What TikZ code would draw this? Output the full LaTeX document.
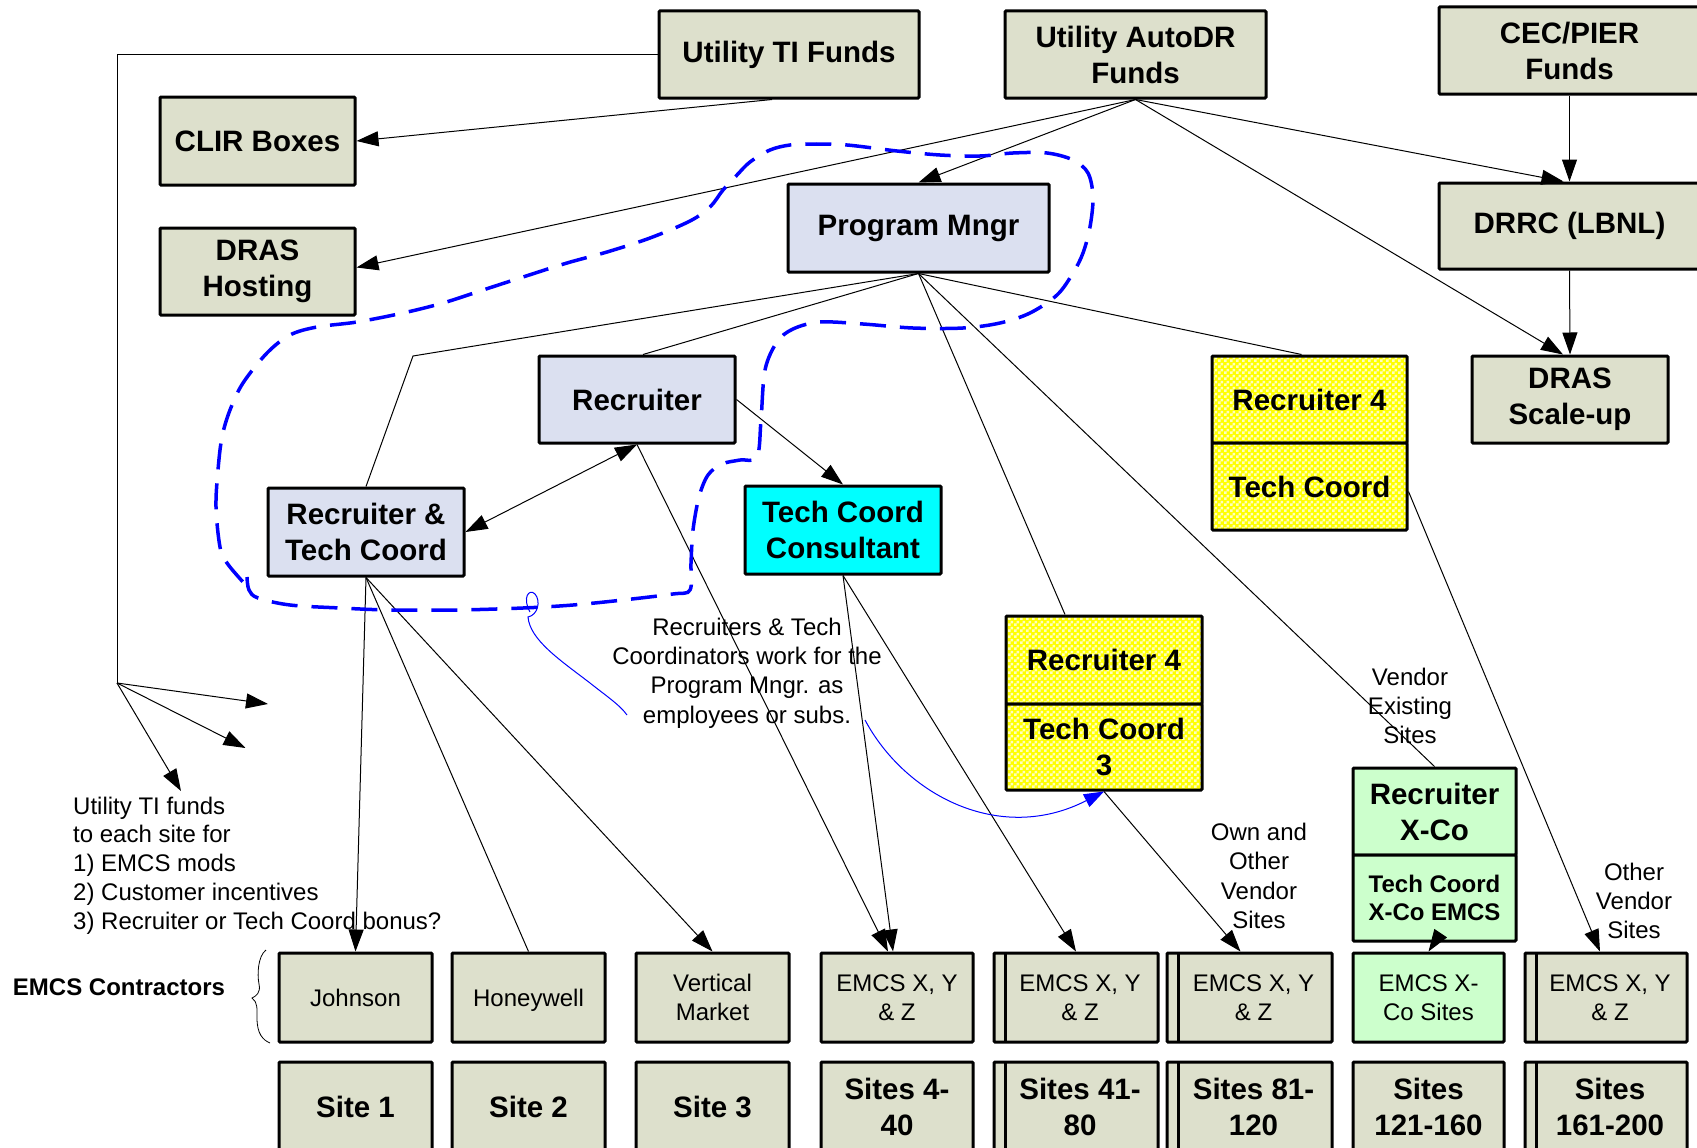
\documentclass[tikz,border=0pt]{standalone}
\usepackage{fontspec}
\setmainfont{Liberation Sans}
\usetikzlibrary{arrows.meta,patterns}
\definecolor{tanfill}{RGB}{221,224,204}
\definecolor{lavfill}{RGB}{219,224,240}
\definecolor{cyanfill}{RGB}{0,255,255}
\definecolor{mintfill}{RGB}{204,255,204}
\definecolor{yelfill}{RGB}{255,255,0}
\definecolor{yelpale}{RGB}{255,255,190}
\definecolor{loopblue}{RGB}{0,0,255}
\newcommand{\fontBig}{\fontsize{29.5}{36}\selectfont\bfseries}
\newcommand{\fontMid}{\fontsize{24}{28}\selectfont\bfseries}
\newcommand{\fontTxt}{\fontsize{24}{28.8}\selectfont}
\newcommand{\fontNote}{\fontsize{24}{29.3}\selectfont}
% small checkerboard used on the yellow staff boxes
\pgfdeclarepatternformonly{yelcheck}{\pgfpointorigin}{\pgfpoint{6pt}{6pt}}{\pgfpoint{6pt}{6pt}}{%
  \pgfpathrectangle{\pgfpointorigin}{\pgfpoint{3pt}{3pt}}%
  \pgfpathrectangle{\pgfpoint{3pt}{3pt}}{\pgfpoint{3pt}{3pt}}%
  \pgfusepath{fill}}
\begin{document}
\begin{tikzpicture}[x=1pt,y=-1pt,
  box/.style={draw=black, line width=3pt, rounded corners=1pt, inner sep=0pt, align=center, font=\fontBig},
  sz/.style 2 args={minimum width=#1pt, minimum height=#2pt},
  tan/.style={box, fill=tanfill},
  lav/.style={box, fill=lavfill},
  cy/.style={box, fill=cyanfill},
  mint/.style={box, fill=mintfill},
  yel/.style={box, fill=yelfill, path picture={\fill[pattern=yelcheck, pattern color=yelpale]
      (path picture bounding box.south west) rectangle (path picture bounding box.north east);}},
  multi/.style={path picture={\draw[line width=3pt]
      ([xshift=11pt]path picture bounding box.north west) -- ([xshift=11pt]path picture bounding box.south west);}},
  contr/.style={tan, font=\fontTxt},
  note/.style={font=\fontNote, align=center, inner sep=0pt},
  conn/.style={line width=1pt, draw=black},
  arr/.style={conn, -{Triangle[length=22pt, width=15pt]}},
  thinblue/.style={line width=1pt, draw=loopblue},
  dashloop/.style={draw=loopblue, line width=3.5pt, dash pattern=on 26pt off 14pt, line cap=butt},
]
\fill[white] (0,0) rectangle (1697,1148);
\useasboundingbox (0,0) rectangle (1697,1148);

% ---- funding sources and top level ----
\node[tan, sz={260}{87}] (uti) at (789,54.5) {Utility TI Funds};
\node[tan, sz={261}{87}] (autodr) at (1135.5,54.5) {Utility AutoDR\\Funds};
\node[tan, sz={261}{87}] (cec) at (1569.5,50.5) {CEC/PIER\\Funds};
\node[tan, sz={261}{86}] (drrc) at (1569.5,226) {DRRC (LBNL)};
\node[tan, sz={196}{87}] (drasup) at (1570,399.5) {DRAS\\Scale-up};
\node[tan, sz={195}{88}] (clir) at (257.5,141) {CLIR Boxes};
\node[tan, sz={195}{87}] (hosting) at (257.5,271.5) {DRAS\\Hosting};

% ---- program organisation ----
\node[lav, sz={261}{88}] (pm) at (918.5,228) {Program Mngr};
\node[lav, sz={196}{87}] (rec) at (637,399.5) {Recruiter};
\node[lav, sz={196}{88}] (rtc) at (366,532) {Recruiter \&\\Tech Coord};
\node[cy, sz={196}{88}] (tcc) at (843,530) {Tech Coord\\Consultant};
\node[yel, sz={195}{87}] (r4a) at (1309.5,399.5) {Recruiter 4};
\node[yel, sz={195}{87}] (r4b) at (1309.5,486.5) {Tech Coord};
\node[yel, sz={196}{88}] (r3a) at (1104,660) {Recruiter 4};
\node[yel, sz={196}{86}] (r3b) at (1104,747) {Tech Coord\\3};
\node[mint, sz={163}{87}] (xa) at (1434.5,811.5) {Recruiter\\X-Co};
\node[mint, sz={163}{86}, font=\fontMid] (xb) at (1434.5,898) {Tech Coord\\X-Co EMCS};

% ---- EMCS contractors ----
\node[contr, sz={153}{89}] (johnson) at (355.5,997.5) {Johnson};
\node[contr, sz={153}{89}, text depth=0pt] (honeywell) at (528.5,997.5) {Honeywell};
\node[contr, sz={153}{89}] (vm) at (712.5,997.5) {Vertical\\Market};
\node[contr, sz={152}{89}] (emcsA) at (897,997.5) {EMCS X, Y\\\& Z};
\node[contr, multi, sz={164}{89}] (emcsB) at (1076,997.5) {\hspace*{8pt}EMCS X, Y\\\hspace*{8pt}\& Z};
\node[contr, multi, sz={165}{89}] (emcsC) at (1249.5,997.5) {\hspace*{8pt}EMCS X, Y\\\hspace*{8pt}\& Z};
\node[mint, font=\fontTxt, sz={151}{89}] (emcsX) at (1428.5,997.5) {EMCS X-\\Co Sites};
\node[contr, multi, sz={162}{89}] (emcsD) at (1606,997.5) {\hspace*{8pt}EMCS X, Y\\\hspace*{8pt}\& Z};

% ---- sites ----
\node[tan, sz={153}{89}] (site1) at (355.5,1106.5) {Site 1};
\node[tan, sz={153}{89}] (site2) at (528.5,1106.5) {Site 2};
\node[tan, sz={153}{89}] (site3) at (712.5,1106.5) {Site 3};
\node[tan, sz={152}{89}] (sitesA) at (897,1106.5) {Sites 4-\\40};
\node[tan, multi, sz={164}{89}] (sitesB) at (1076,1106.5) {\hspace*{8pt}Sites 41-\\\hspace*{8pt}80};
\node[tan, multi, sz={165}{89}] (sitesC) at (1249.5,1106.5) {\hspace*{8pt}Sites 81-\\\hspace*{8pt}120};
\node[tan, sz={151}{89}] (sitesX) at (1428.5,1106.5) {Sites\\121-160};
\node[tan, multi, sz={162}{89}] (sitesD) at (1606,1106.5) {\hspace*{8pt}Sites\\\hspace*{8pt}161-200};

% ---- free text ----
\node[font=\fontTxt, align=left, anchor=west, inner sep=0pt] (tinote) at (73,865.5)
  {Utility TI funds\\to each site for\\1) EMCS mods\\2) Customer incentives\\3) Recruiter or Tech Coord bonus?};
\node[font=\fontMid, inner sep=0pt] (emcslbl) at (119,987) {EMCS Contractors};
\node[note] (pmnote) at (747,673) {Recruiters \& Tech\\Coordinators work for the\\Program Mngr. as\\employees or subs.};
\node[note] (vendor) at (1410,706) {Vendor\\Existing\\Sites};
\node[note] (ownother) at (1259,876) {Own and\\Other\\Vendor\\Sites};
\node[note] (othervendor) at (1634,901) {Other\\Vendor\\Sites};

% brace grouping the contractor row
\draw[line width=0.8pt] (266,950) .. controls (258,956) and (257,974) .. (259,984)
  .. controls (261,993) and (256,996) .. (252,998)
  .. controls (258,1002) and (257,1010) .. (257,1018)
  .. controls (257,1034) and (263,1040) .. (270,1043);

% ---- utility TI funds distribution ----
\coordinate (tiCorner) at (117,54.5);
\coordinate (tiHub) at (117,683);
\coordinate (tiTipA) at (268,704);
\coordinate (tiTipB) at (245.5,748);
\coordinate (tiTipC) at (181,791);
\draw[conn] (uti.west) -- (tiCorner) -- (tiHub);
\draw[arr] (tiHub) -- (tiTipA);
\draw[arr] (tiHub) -- (tiTipB);
\draw[arr] (tiHub) -- (tiTipC);
\draw[arr] ([xshift=-17pt]uti.south) -- (clir.east);

% ---- AutoDR and CEC funding ----
\draw[arr] (autodr.south) -- ([yshift=4pt]hosting.east);
\draw[arr] (autodr.south) -- (pm.north);
\draw[arr] (autodr.south) -- ([xshift=-6pt]drrc.north);
\draw[arr] (autodr.south) -- ([xshift=-7pt]drasup.north);
\draw[arr] (cec.south) -- (drrc.north);
\draw[arr] (drrc.south) -- (drasup.north);

% ---- program manager reporting lines ----
\coordinate (pmBend) at (413,356);
\draw[conn] (pm.south) -- (pmBend) -- (rtc.north);
\draw[conn] (pm.south) -- ([xshift=6pt]rec.north);
\draw[conn] (pm.south) -- ([xshift=-8pt]r4a.north);
\draw[conn] (pm.south) -- ([xshift=-39pt]r3a.north);
\draw[conn] (pm.south) -- (xa.north);

% ---- recruiters and tech coordinators to contractors ----
\draw[arr] (rec.east) -- (tcc.north);
\draw[conn, {Triangle[length=22pt, width=15pt]}-{Triangle[length=22pt, width=15pt]}] (rec.south) -- (rtc.east);
\draw[arr] (rec.south) -- ([xshift=-9pt]emcsA.north);
\draw[arr] (tcc.south) -- ([xshift=-4pt]emcsA.north);
\draw[arr] (tcc.south) -- (emcsB.north);
\draw[arr] (rtc.south) -- (johnson.north);
\draw[conn] (rtc.south) -- (honeywell.north);
\draw[arr] (rtc.south) -- (vm.north);
\draw[arr] (r3b.south) -- ([xshift=-9pt]emcsC.north);
\draw[arr] (xb.south) -- (emcsX.north);
\draw[arr] ([yshift=-5pt]r4b.east) -- ([xshift=-6pt]emcsD.north);

% ---- dashed boundary around the program staff ----
\draw[dashloop] plot[smooth, tension=0.55] coordinates {
  (247,577) (249,590) (258,598) (290,605) (340,608) (390,610) (457,610) (523,608)
  (573,605) (623,600) (673,594) (690,590) (691,563) (693,530) (699,497) (708,475)
  (722,464) (740,460) (757,457) (761,420) (765,370) (777,342) (793,329) (820,322)
  (863,324) (913,328) (963,328) (1000,323) (1030,313) (1057,295) (1073,273) (1083,253)
  (1090,227) (1093,197) (1088,173) (1073,160) (1047,153) (1013,153) (980,156) (940,155)
  (897,151) (847,145) (813,144) (790,145) (770,150) (750,162) (737,175) (723,190)
  (710,207) (690,221) (650,238) (607,252) (567,263) (523,277) (483,290) (443,303)
  (403,313) (357,322) (317,327) (290,335) (267,353) (243,383) (230,410) (222,437)
  (218,470) (216,507) (220,547) (227,563) (243,582)};

% ---- thin pointer from the boundary through the note ----
\coordinate (loopTail) at (530,612);
\coordinate (noteIn) at (627,715);
\coordinate (noteOut) at (865,720);
\draw[thinblue] (loopTail) .. controls (522,598) and (529,588) .. (535,594)
  .. controls (541,601) and (538,615) .. (528,617)
  .. controls (530,640) and (560,660) .. (590,683)
  .. controls (605,695) and (620,705) .. (noteIn);
\draw[thinblue, -{Triangle[length=20pt, width=14pt]}, loopblue] (noteOut) .. controls (905,795) and (1000,845) .. (r3b.south);
\end{tikzpicture}
\end{document}
